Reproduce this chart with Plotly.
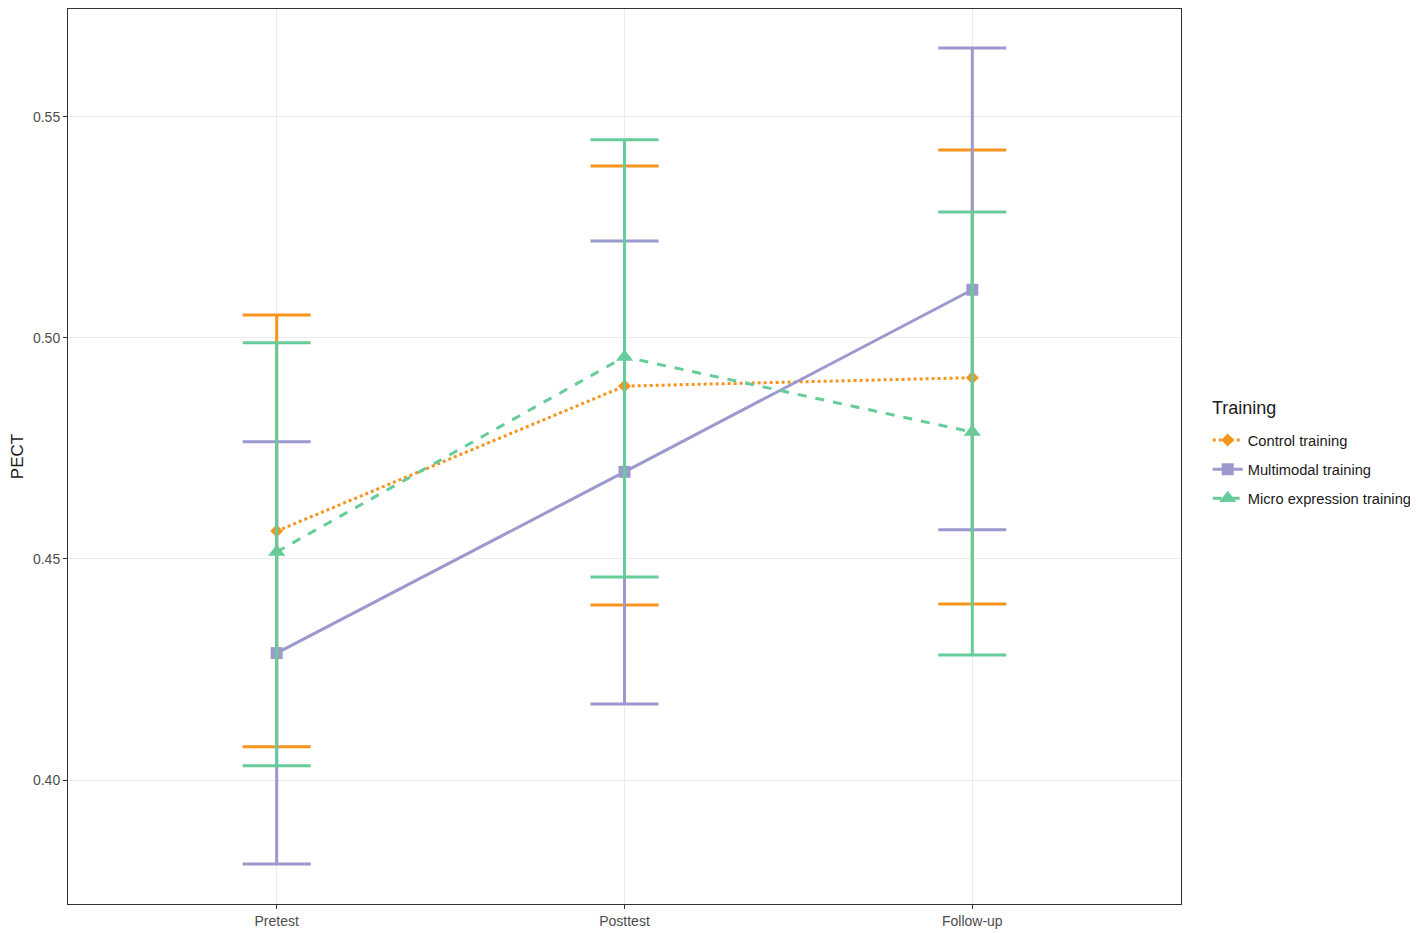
import plotly.graph_objects as go

categories = ["Pretest", "Posttest", "Follow-up"]
groups = ["Control training", "Multimodal training", "Micro expression training"]

control_mean = [0.4563, 0.4891, 0.4910]
control_upper = [0.5052, 0.5389, 0.5425]
control_lower = [0.4075, 0.4396, 0.4398]

multimodal_mean = [0.4287, 0.4697, 0.5109]
multimodal_upper = [0.4765, 0.5219, 0.5656]
multimodal_lower = [0.3810, 0.4172, 0.4566]

micro_mean = [0.4516, 0.4957, 0.4787]
micro_upper = [0.4989, 0.5448, 0.5285]
micro_lower = [0.4032, 0.4459, 0.4283]

colors = ["#F7941D", "#9B99CD", "#66CC99"]
dashes = ["dot", "solid", "dash"]
symbols = ["diamond", "square", "triangle-up"]
msizes = [10, 12, 15]

means = [control_mean, multimodal_mean, micro_mean]
uppers = [control_upper, multimodal_upper, micro_upper]
lowers = [control_lower, multimodal_lower, micro_lower]

xpos = list(range(len(categories)))

fig = go.Figure()
for i, g in enumerate(groups):
    fig.add_trace(go.Scatter(
        x=xpos, y=means[i], mode="lines+markers", name=g, legendgroup=f"g{i}",
        line=dict(color=colors[i], width=3, dash=dashes[i]),
        marker=dict(color=colors[i], symbol=symbols[i], size=msizes[i], line=dict(width=0)),
    ))
for i, g in enumerate(groups):
    fig.add_trace(go.Scatter(
        x=xpos, y=means[i], mode="markers", showlegend=False, hoverinfo="skip",
        legendgroup=f"g{i}",
        marker=dict(color=colors[i], size=1, opacity=0),
        error_y=dict(type="data", symmetric=False,
                     array=[u - m for u, m in zip(uppers[i], means[i])],
                     arrayminus=[m - l for m, l in zip(means[i], lowers[i])],
                     color=colors[i], thickness=3, width=34),
    ))

fig.update_layout(
    width=1410, height=926,
    paper_bgcolor="white", plot_bgcolor="white",
    margin=dict(l=60, r=237, t=1, b=30),
    font=dict(family="Liberation Sans, Arial, sans-serif", color="#4D4D4D"),
    legend=dict(
        font=dict(size=14.7, color="#1A1A1A"),
        x=1.024, xanchor="left", y=0.4855, yanchor="middle",
        tracegroupgap=7, itemwidth=30,
    ),
    showlegend=True,
    annotations=[dict(
        text="Training", xref="paper", yref="paper", x=1.0261, y=0.5537,
        xanchor="left", yanchor="middle", showarrow=False,
        font=dict(size=18, color="#1A1A1A"),
    )],
)
fig.update_xaxes(
    range=[-0.6, 2.6], tickmode="array", tickvals=xpos, ticktext=categories,
    showgrid=True, gridcolor="#EBEBEB", gridwidth=1.2,
    showline=True, linecolor="#333333", linewidth=1, mirror=True,
    ticks="outside", ticklen=4, tickcolor="#333333", tickfont=dict(size=14, color="#4D4D4D"),
    zeroline=False,
)
fig.update_yaxes(
    range=[0.37195, 0.5744], tickmode="array", tickvals=[0.40, 0.45, 0.50, 0.55],
    ticktext=["0.40", "0.45", "0.50", "0.55"],
    showgrid=True, gridcolor="#EBEBEB", gridwidth=1.2,
    showline=True, linecolor="#333333", linewidth=1, mirror=True,
    ticks="outside", ticklen=4, tickcolor="#333333", tickfont=dict(size=14, color="#4D4D4D"),
    title=dict(text="PECT", font=dict(size=17, color="#1A1A1A"), standoff=8),
    zeroline=False,
)

fig.write_html("out.html")
